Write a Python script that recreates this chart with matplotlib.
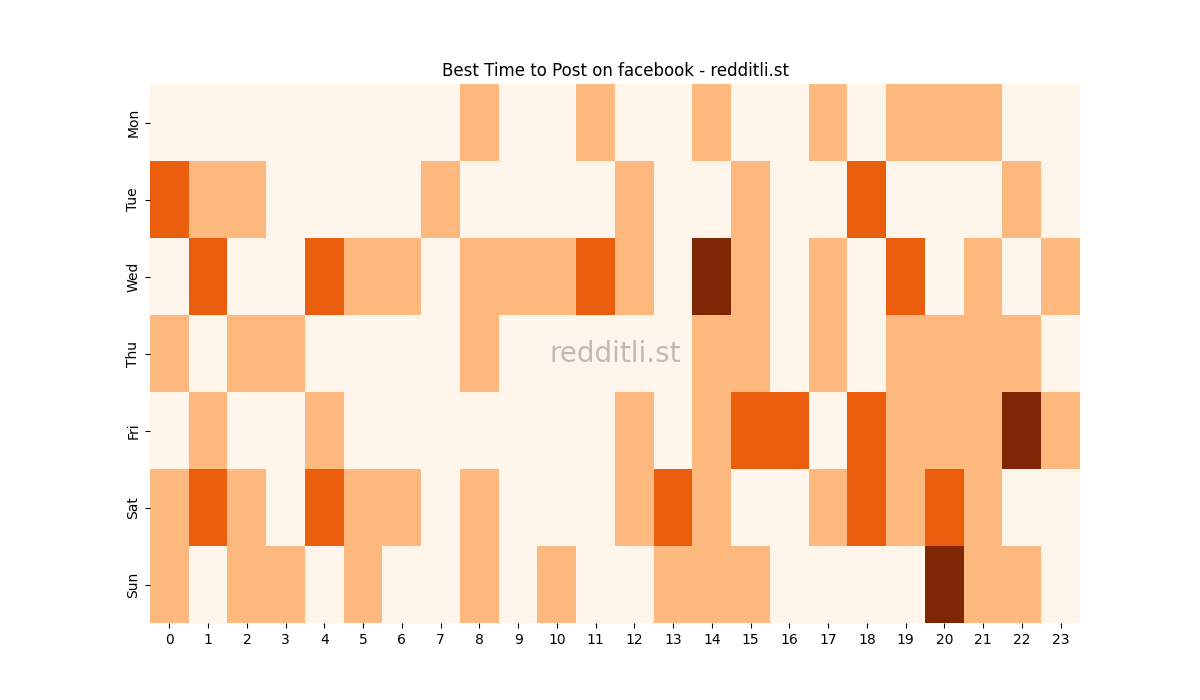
import numpy as np
import matplotlib.pyplot as plt

days = ["Mon", "Tue", "Wed", "Thu", "Fri", "Sat", "Sun"]
hours = list(range(24))

mon = [0, 0, 0, 0, 0, 0, 0, 0, 1, 0, 0, 1, 0, 0, 1, 0, 0, 1, 0, 1, 1, 1, 0, 0]
tue = [2, 1, 1, 0, 0, 0, 0, 1, 0, 0, 0, 0, 1, 0, 0, 1, 0, 0, 2, 0, 0, 0, 1, 0]
wed = [0, 2, 0, 0, 2, 1, 1, 0, 1, 1, 1, 2, 1, 0, 3, 1, 0, 1, 0, 2, 0, 1, 0, 1]
thu = [1, 0, 1, 1, 0, 0, 0, 0, 1, 0, 0, 0, 0, 0, 1, 1, 0, 1, 0, 1, 1, 1, 1, 0]
fri = [0, 1, 0, 0, 1, 0, 0, 0, 0, 0, 0, 0, 1, 0, 1, 2, 2, 0, 2, 1, 1, 1, 3, 1]
sat = [1, 2, 1, 0, 2, 1, 1, 0, 1, 0, 0, 0, 1, 2, 1, 0, 0, 1, 2, 1, 2, 1, 0, 0]
sun = [1, 0, 1, 1, 0, 1, 0, 0, 1, 0, 1, 0, 0, 1, 1, 1, 0, 0, 0, 0, 3, 1, 1, 0]

grid = np.array([mon, tue, wed, thu, fri, sat, sun])

fig, ax = plt.subplots(figsize=(12, 7), dpi=100)
ax.imshow(grid, cmap="Oranges", vmin=0, vmax=3, aspect="auto", interpolation="nearest")
ax.set_xticks(range(len(hours)))
ax.set_xticklabels(hours)
ax.set_yticks(range(len(days)))
ax.set_yticklabels(days, rotation=90, va="center")
for s in ax.spines.values():
    s.set_visible(False)
ax.set_title("Best Time to Post on facebook - redditli.st")
ax.text(0.5, 0.5, "redditli.st", transform=ax.transAxes, ha="center", va="center",
        fontsize=20, color="gray", alpha=0.5)
fig.savefig("out.png")
